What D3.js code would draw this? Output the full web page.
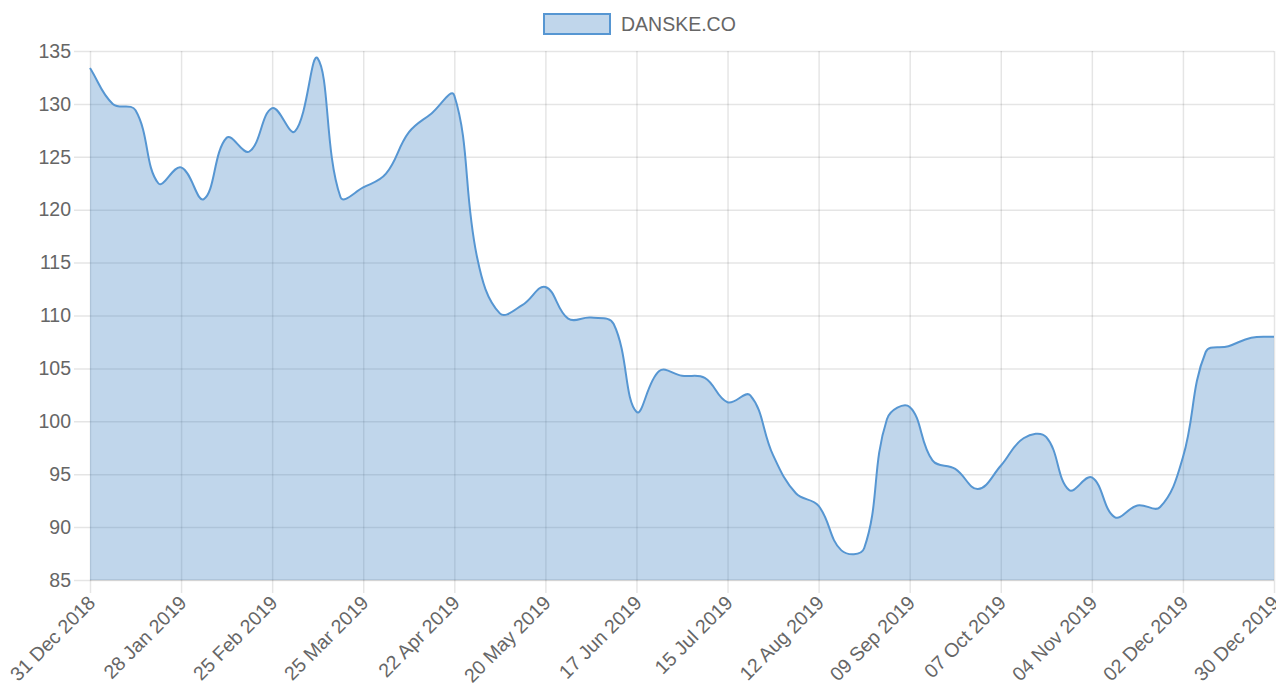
<!DOCTYPE html>
<html>
<head>
<meta charset="utf-8">
<script src="https://cdnjs.cloudflare.com/ajax/libs/d3/7.8.5/d3.min.js"></script>
<style>
  body { margin: 0; background: #fff; }
  #chart { width: 1276px; height: 683px; }
  text { font-family: 'Liberation Sans', Arial, Helvetica, sans-serif; fill: #666; }
</style>
</head>
<body>
<div id="chart"></div>
<script>
// data
const seriesName = 'DANSKE.CO';
const startWeek = '31 Dec 2018';
const closeValues = [
  133.4, 130.0, 129.4, 122.5, 124.0, 121.0, 126.8, 125.5, 129.6, 127.4,
  134.3, 121.2, 122.1, 123.4, 127.3, 129.1, 130.8, 115.5, 110.2, 111.0,
  112.7, 109.7, 109.8, 109.2, 100.9, 104.75, 104.3, 104.1, 101.8, 102.45,
  96.8, 93.2, 92.0, 87.8, 88.0, 100.2, 101.35, 96.3, 95.5, 93.6,
  95.8, 98.4, 98.5, 93.5, 94.7, 90.95, 92.05, 91.9, 96.6, 106.55,
  107.1, 107.9, 108.0
];
const xTickLabels = [
  '31 Dec 2018', '28 Jan 2019', '25 Feb 2019', '25 Mar 2019', '22 Apr 2019',
  '20 May 2019', '17 Jun 2019', '15 Jul 2019', '12 Aug 2019', '09 Sep 2019',
  '07 Oct 2019', '04 Nov 2019', '02 Dec 2019', '30 Dec 2019'
];
const yTicks = [85, 90, 95, 100, 105, 110, 115, 120, 125, 130, 135];

// dimensions
const MARGIN_LEFT = 90;
const MARGIN_RIGHT = 2;
const MARGIN_TOP = 51;
const MARGIN_BOTTOM = 103;
const W = 1276;
const H = 683;
const FONT = 19.5;
const LABEL_ROTATION = -45;

const LINE_COLOR = 'rgb(86,150,210)';
const FILL_COLOR = 'rgba(58,128,192,0.32)';
const GRID_COLOR = 'rgba(0,0,0,0.1)';

const parse = d3.timeParse('%d %b %Y');
const fmt = d3.timeFormat('%d %b %Y');
const start = parse(startWeek);
const points = closeValues.map((v, i) => ({ date: d3.timeWeek.offset(start, i), value: v }));

const $svg = d3.select('#chart').append('svg')
  .attr('width', W)
  .attr('height', H);

const scaleX = d3.scaleTime()
  .domain([parse(xTickLabels[0]), parse(xTickLabels[xTickLabels.length - 1])])
  .range([MARGIN_LEFT, W - MARGIN_RIGHT]);

const scaleY = d3.scaleLinear()
  .domain([85, 135])
  .range([H - MARGIN_BOTTOM, MARGIN_TOP]);

// y axis + horizontal grid
const axisY = d3.axisLeft(scaleY)
  .tickValues(yTicks)
  .tickSize(16 + (W - MARGIN_RIGHT - MARGIN_LEFT))
  .tickPadding(3)
  .tickFormat(d3.format('d'));

$svg.append('g')
  .attr('class', 'axis-y')
  .attr('transform', `translate(${W - MARGIN_RIGHT}, 0)`)
  .call(axisY)
  .call(g => g.select('.domain').remove())
  .call(g => g.selectAll('.tick line').attr('stroke', GRID_COLOR).attr('stroke-width', 1.5))
  .call(g => g.selectAll('.tick text').style('font-size', FONT + 'px').attr('fill', '#666'));

// x axis + vertical grid
const axisX = d3.axisBottom(scaleX)
  .tickValues(xTickLabels.map(parse))
  .tickSize(-(H - MARGIN_BOTTOM - MARGIN_TOP))
  .tickFormat(fmt);

const $axisX = $svg.append('g')
  .attr('class', 'axis-x')
  .attr('transform', `translate(0, ${H - MARGIN_BOTTOM})`)
  .call(axisX)
  .call(g => g.select('.domain').remove());

$axisX.selectAll('.tick line')
  .attr('y1', 13)
  .attr('y2', -(H - MARGIN_BOTTOM - MARGIN_TOP))
  .attr('stroke', GRID_COLOR)
  .attr('stroke-width', 1.5);

$axisX.selectAll('.tick text')
  .style('font-size', FONT + 'px')
  .attr('fill', '#666')
  .attr('text-anchor', 'end')
  .attr('y', 0)
  .attr('dy', null)
  .attr('transform', `translate(6, 24) rotate(${LABEL_ROTATION})`);

// bottom axis line
$svg.append('line')
  .attr('x1', MARGIN_LEFT).attr('x2', W - MARGIN_RIGHT)
  .attr('y1', scaleY(85)).attr('y2', scaleY(85))
  .attr('stroke', GRID_COLOR).attr('stroke-width', 1.5);

// chart.js style spline (tension 0.4)
function splinePath(pts, t) {
  const p = d3.path();
  const cps = pts.map((m, i) => {
    const a = pts[i - 1] || m;
    const b = pts[i + 1] || m;
    const d01 = Math.hypot(m[0] - a[0], m[1] - a[1]);
    const d12 = Math.hypot(b[0] - m[0], b[1] - m[1]);
    let s01 = d01 / (d01 + d12);
    let s12 = d12 / (d01 + d12);
    if (isNaN(s01)) s01 = 0;
    if (isNaN(s12)) s12 = 0;
    const fa = t * s01;
    const fb = t * s12;
    return {
      prev: [m[0] - fa * (b[0] - a[0]), m[1] - fa * (b[1] - a[1])],
      next: [m[0] + fb * (b[0] - a[0]), m[1] + fb * (b[1] - a[1])]
    };
  });
  p.moveTo(pts[0][0], pts[0][1]);
  for (let i = 1; i < pts.length; i++) {
    const c1 = cps[i - 1].next;
    const c2 = cps[i].prev;
    p.bezierCurveTo(c1[0], c1[1], c2[0], c2[1], pts[i][0], pts[i][1]);
  }
  return p.toString();
}

const xy = points.map(d => [scaleX(d.date), scaleY(d.value)]);
const linePath = splinePath(xy, 0.4);
const baseY = scaleY(85);
const areaPath = linePath +
  `L${xy[xy.length - 1][0]},${baseY}L${xy[0][0]},${baseY}Z`;

$svg.append('path')
  .attr('class', 'area')
  .attr('d', areaPath)
  .attr('fill', FILL_COLOR);

$svg.append('path')
  .attr('class', 'line')
  .attr('d', linePath)
  .attr('fill', 'none')
  .attr('stroke', LINE_COLOR)
  .attr('stroke-width', 2);

// legend
const $legend = $svg.append('g').attr('class', 'legend');
$legend.append('rect')
  .attr('x', 544).attr('y', 14)
  .attr('width', 66).attr('height', 20)
  .attr('fill', FILL_COLOR)
  .attr('stroke', LINE_COLOR)
  .attr('stroke-width', 2);
$legend.append('text')
  .attr('x', 621).attr('y', 24)
  .attr('dy', '0.35em')
  .style('font-size', FONT + 'px')
  .text(seriesName);
</script>
</body>
</html>
